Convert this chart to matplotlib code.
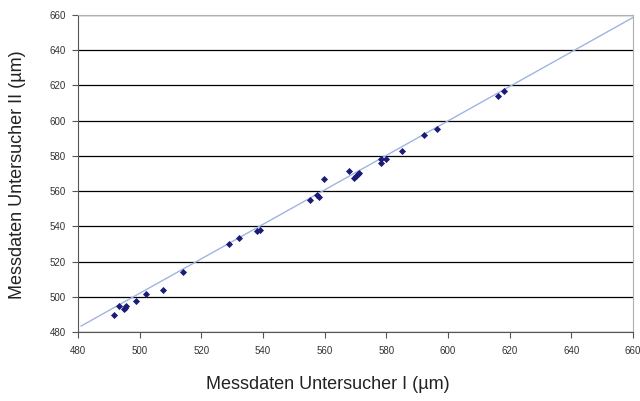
import numpy as np
import matplotlib
matplotlib.use("Agg")
import matplotlib.pyplot as plt

# Messdaten (µm)
untersucher_1 = [491.5, 493.4, 494.8, 495.1, 495.7, 498.7, 502.1, 507.5, 514.0,
                 528.9, 532.2, 538.2, 538.9, 555.3, 557.6, 558.2, 559.9, 568.0,
                 569.6, 570.2, 570.7, 571.2, 578.3, 578.4, 579.8, 585.0, 592.2,
                 596.3, 616.3, 618.2]
untersucher_2 = [489.7, 494.6, 492.9, 493.8, 494.6, 497.4, 501.8, 503.8, 513.9,
                 530.0, 533.2, 537.5, 538.1, 555.0, 557.8, 556.8, 567.0, 571.6,
                 567.3, 568.6, 569.7, 570.1, 576.1, 578.0, 578.0, 582.7, 591.7,
                 595.3, 614.2, 616.8]

# lineare Trendlinie
trend_steigung = 0.978
trend_achsenabschnitt = 13.0

plt.rcParams['font.family'] = ['Liberation Sans Narrow', 'Liberation Sans', 'DejaVu Sans']

fig = plt.figure(figsize=(6.4, 4.01), dpi=100)
ax = fig.add_axes([0.122, 0.172, 0.867, 0.791])

xs = np.array([481, 660])
ys = trend_achsenabschnitt + trend_steigung * xs
ax.plot(xs, ys, color='#9fb4e2', lw=1.0, zorder=2)

ax.scatter(untersucher_1, untersucher_2, marker='D', s=13, color='#1c1c78',
           zorder=3, linewidths=0)

ax.set_xlim(480, 660)
ax.set_ylim(480, 660)
ax.set_xticks(range(480, 661, 20))
ax.set_yticks(range(480, 661, 20))
ax.yaxis.grid(True, color='black', lw=0.9)
ax.set_axisbelow(True)

for s in ['top', 'right']:
    ax.spines[s].set_color('#b0b0b0')
ax.spines['left'].set_color('#555555')
ax.spines['bottom'].set_color('#555555')
ax.tick_params(direction='out', length=4, width=0.8, color='#555555',
               labelsize=7, labelcolor='#333333')
ax.tick_params(axis='y', pad=5)
ax.tick_params(axis='x', pad=6)

fig.text(0.512, 0.04, 'Messdaten Untersucher I (µm)', ha='center', va='center',
         fontsize=13, color='#222222')
fig.text(0.028, 0.565, 'Messdaten Untersucher II (µm)', ha='center', va='center',
         rotation=90, fontsize=13, color='#222222')

fig.savefig('out.png', dpi=100)
